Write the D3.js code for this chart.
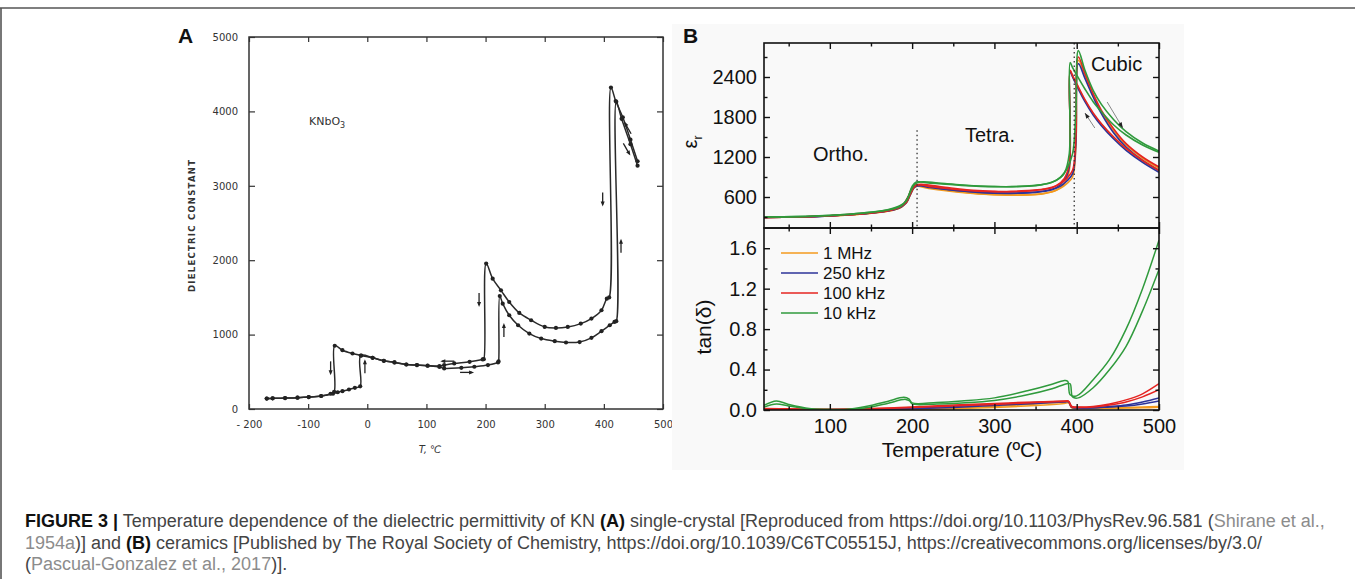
<!DOCTYPE html>
<html>
<head>
<style>
  body { margin: 0; background: #fff; }
  svg { display: block; }
  .scan text { font-family: "DejaVu Sans", sans-serif; fill: #333; }
  .plotB text { font-family: Arial, "Liberation Sans", sans-serif; fill: #111; }
  .caption { font-family: Arial, "Liberation Sans", sans-serif; font-size: 18px; fill: #444; }
  .caption .b { font-weight: bold; fill: #111; }
  .caption .g { fill: #8c8c8c; }
</style>
</head>
<body>
<script src="https://d3js.org/d3.v7.min.js"></script>
<script>
// ---------- panel A: KNbO3 single crystal (cooling / heating runs)
const coolT = [457, 445, 432, 420, 412, 409, 405, 396, 379, 361, 339, 319, 300, 277, 257, 240, 226, 212, 201, 197,
  195, 173, 147, 130, 122, 102, 84, 66, 46, 28, 9, -10, -25, -42, -55, -56, -62, -78, -99, -118, -139, -160, -170];
const coolEps = [3330, 3620, 3920, 4140, 4320, 1500, 1483, 1327, 1215, 1148, 1103, 1090, 1103, 1193, 1291, 1438, 1595, 1752, 1955, 670,
  666, 634, 612, 590, 578, 582, 590, 598, 626, 648, 688, 718, 746, 790, 850, 232, 205, 175, 160, 152, 147, 143, 140];
const heatT = [-170, -160, -139, -118, -99, -78, -58, -50, -42, -31, -21, -12, -11, 9, 28, 46, 66, 84, 102, 122,
  130, 159, 181, 204, 221, 222, 224, 229, 240, 255, 274, 294, 317, 336, 359, 379, 396, 410, 418, 421, 421, 430, 445, 457];
const heatEps = [140, 143, 147, 152, 160, 175, 205, 225, 240, 262, 285, 305, 718, 688, 648, 626, 598, 590, 581, 565,
  545, 554, 568, 590, 626, 640, 1519, 1416, 1260, 1126, 1014, 947, 911, 894, 900, 956, 1046, 1126, 1170, 1180, 4130, 3900, 3560, 3270];
const xTicksA = [-200, -100, 0, 100, 200, 300, 400, 500];
const yTicksA = [0, 1000, 2000, 3000, 4000, 5000];
// arrows drawn on the scan: [T, value, direction]
const arrowsA = [[-62, 560, 'down'], [-4, 560, 'up'], [189, 1480, 'down'], [231, 1050, 'up'],
  [398, 2830, 'down'], [429, 2180, 'up'], [137, 643, 'left'], [167, 492, 'right'],
  [441, 3770, 'upleft'], [438, 3500, 'downright']];

// ---------- panel B: KN ceramics, permittivity
const freqs = ['1 MHz', '250 kHz', '100 kHz', '10 kHz'];
const colors = ['#f39a1e', '#2c3399', '#e52421', '#2f9a3c'];
const epsHeatT = [20, 60, 100, 140, 170, 185, 193, 198, 203, 210, 240, 280, 320, 350, 370, 380, 388, 395, 399, 402, 410, 420, 430, 445, 460, 480, 500];
const epsHeat1M = [295, 300, 316, 345, 388, 440, 510, 635, 745, 765, 705, 650, 630, 640, 680, 730, 800, 900, 1350, 2650, 2420, 2120, 1870, 1590, 1380, 1180, 1030];
const epsHeat250k = [295, 300, 317, 348, 390, 445, 515, 640, 750, 775, 720, 670, 655, 670, 710, 760, 840, 950, 1400, 2600, 2380, 2100, 1850, 1560, 1350, 1150, 1000];
const epsHeat100k = [295, 300, 318, 350, 395, 450, 520, 650, 760, 790, 745, 695, 680, 700, 740, 800, 880, 1000, 1500, 2700, 2450, 2150, 1900, 1620, 1400, 1200, 1050];
const epsHeat10k = [300, 305, 325, 360, 410, 470, 540, 680, 790, 825, 800, 765, 755, 770, 820, 890, 1020, 1250, 1900, 2795, 2500, 2200, 1990, 1760, 1580, 1410, 1290];
const epsCoolT = [500, 480, 460, 445, 430, 420, 410, 400, 395, 392, 391, 385, 375, 360, 340, 300, 260, 220, 205, 200, 195, 188, 175, 140, 100, 60, 20];
const epsCool1M = [990, 1140, 1320, 1490, 1690, 1850, 2050, 2290, 2410, 2490, 1000, 800, 700, 650, 630, 635, 670, 730, 760, 715, 585, 455, 398, 346, 316, 300, 295];
const epsCool250k = [970, 1120, 1300, 1470, 1670, 1830, 2030, 2270, 2400, 2480, 1050, 850, 740, 690, 665, 660, 690, 745, 770, 725, 590, 460, 400, 348, 317, 300, 295];
const epsCool100k = [1000, 1150, 1330, 1500, 1700, 1860, 2060, 2300, 2420, 2500, 1100, 880, 770, 720, 695, 680, 705, 760, 785, 740, 600, 470, 405, 350, 318, 300, 295];
const epsCool10k = [1270, 1380, 1530, 1680, 1880, 2030, 2220, 2430, 2540, 2615, 1250, 960, 850, 790, 765, 755, 775, 810, 825, 760, 600, 480, 415, 358, 323, 305, 300];

// ---------- panel B: loss tangent
const tanT = [20, 50, 100, 150, 200, 250, 300, 350, 385, 390, 394, 400, 420, 440, 460, 480, 500];
const tan1MA = [0.005, 0.004, 0.003, 0.005, 0.01, 0.02, 0.035, 0.06, 0.08, 0.082, 0.025, 0.02, 0.02, 0.022, 0.025, 0.03, 0.035];
const tan1MB = [0.003, 0.002, 0.002, 0.003, 0.006, 0.012, 0.025, 0.045, 0.065, 0.07, 0.02, 0.015, 0.015, 0.017, 0.02, 0.022, 0.028];
const tan250kA = [0.01, 0.006, 0.004, 0.008, 0.018, 0.035, 0.055, 0.075, 0.085, 0.085, 0.03, 0.025, 0.025, 0.035, 0.05, 0.08, 0.12];
const tan250kB = [0.006, 0.004, 0.003, 0.006, 0.012, 0.025, 0.045, 0.065, 0.08, 0.08, 0.025, 0.02, 0.02, 0.03, 0.04, 0.06, 0.09];
const tan100kA = [0.015, 0.012, 0.008, 0.015, 0.03, 0.05, 0.065, 0.08, 0.088, 0.088, 0.035, 0.03, 0.035, 0.06, 0.1, 0.16, 0.26];
const tan100kB = [0.01, 0.008, 0.006, 0.01, 0.025, 0.04, 0.055, 0.075, 0.085, 0.085, 0.03, 0.025, 0.03, 0.05, 0.08, 0.13, 0.2];
const tan10kAT = [20, 35, 50, 75, 100, 125, 150, 170, 190, 196, 200, 230, 260, 300, 340, 370, 384, 389, 392, 400, 420, 440, 460, 480, 500];
const tan10kA = [0.045, 0.088, 0.055, 0.015, 0.005, 0.01, 0.045, 0.085, 0.125, 0.11, 0.07, 0.075, 0.09, 0.12, 0.19, 0.255, 0.29, 0.285, 0.15, 0.14, 0.3, 0.5, 0.8, 1.2, 1.68];
const tan10kBT = [20, 35, 50, 75, 100, 125, 150, 170, 192, 197, 200, 230, 260, 300, 340, 370, 388, 392, 395, 402, 420, 440, 460, 480, 500];
const tan10kB = [0.03, 0.06, 0.04, 0.01, 0.004, 0.006, 0.03, 0.065, 0.105, 0.09, 0.06, 0.06, 0.07, 0.095, 0.15, 0.21, 0.26, 0.26, 0.13, 0.12, 0.22, 0.4, 0.63, 0.98, 1.39];

const xTicksB = [100, 200, 300, 400, 500];
const xMinorB = [50, 150, 250, 350, 450];
const epsTicks = [600, 1200, 1800, 2400];
const epsMinor = [300, 900, 1500, 2100, 2700];
const tanTicks = [0, 0.4, 0.8, 1.2, 1.6];
const tanMinor = [0.2, 0.6, 1.0, 1.4];
const phaseT = [206, 397];       // dotted phase boundaries
const phaseTop = [1600, 2910];

const W = 1355, H = 579;
const svg = d3.select('body').append('svg').attr('width', W).attr('height', H);

// page frame
svg.append('line').attr('x1', 0).attr('x2', W).attr('y1', 8).attr('y2', 8)
  .attr('stroke', '#555').attr('stroke-width', 1.6);
svg.append('line').attr('x1', 1).attr('x2', 1).attr('y1', 8).attr('y2', H)
  .attr('stroke', '#555').attr('stroke-width', 1.6);

function styleAxis(g, size, family, color, sw) {
  g.select('.domain').remove();
  g.attr('font-size', size).attr('font-family', family).attr('color', color);
  g.selectAll('.tick line').attr('stroke-width', sw);
}

// ================= panel A =================
const xA = d3.scaleLinear().domain([-200, 500]).range([249, 663]);
const yA = d3.scaleLinear().domain([0, 5000]).range([409, 37]);
const gA = svg.append('g').attr('class', 'scan');
const fA = '"DejaVu Sans", sans-serif';

gA.append('g').attr('transform', 'translate(0,409)')
  .call(d3.axisBottom(xA).tickValues(xTicksA).tickSizeInner(-5).tickSizeOuter(0).tickPadding(12)
    .tickFormat(d => d === -200 ? '- 200' : d))
  .call(g => styleAxis(g, 10, fA, '#333', 1.2));
gA.append('g').attr('transform', 'translate(0,37)')
  .call(d3.axisTop(xA).tickValues(xTicksA).tickSizeInner(-5).tickSizeOuter(0).tickFormat(''))
  .call(g => styleAxis(g, 10, fA, '#333', 1.2));
gA.append('g').attr('transform', 'translate(249,0)')
  .call(d3.axisLeft(yA).tickValues(yTicksA).tickSizeInner(-6).tickSizeOuter(0).tickPadding(11).tickFormat(d3.format('d')))
  .call(g => styleAxis(g, 10, fA, '#333', 1.2));
gA.append('g').attr('transform', 'translate(663,0)')
  .call(d3.axisRight(yA).tickValues(yTicksA).tickSizeInner(-6).tickSizeOuter(0).tickFormat(''))
  .call(g => styleAxis(g, 10, fA, '#333', 1.2));
gA.append('rect').attr('x', 249).attr('y', 37).attr('width', 663 - 249).attr('height', 409 - 37)
  .attr('fill', 'none').attr('stroke', '#333').attr('stroke-width', 1.5);

const lineA = d3.line().x(d => xA(d[0])).y(d => yA(d[1])).curve(d3.curveCatmullRom.alpha(0.5));
const coolA = coolT.map((t, i) => [t, coolEps[i]]);
const heatA = heatT.map((t, i) => [t, heatEps[i]]);
[coolA, heatA].forEach(run => {
  gA.append('path').attr('d', lineA(run)).attr('fill', 'none').attr('stroke', '#2a2a2a').attr('stroke-width', 1.5);
  gA.selectAll(null).data(run).join('circle')
    .attr('cx', d => xA(d[0])).attr('cy', d => yA(d[1])).attr('r', 2.1).attr('fill', '#222');
});

const dirVec = { down: [0, 1], up: [0, -1], left: [-1, 0], right: [1, 0], upleft: [-0.5, -0.87], downright: [0.5, 0.87] };
arrowsA.forEach(([t, v, dir]) => {
  const [ux, uy] = dirVec[dir];
  const cx = xA(t), cy = yA(v), L = 6;
  const ex = cx + ux * L, ey = cy + uy * L;
  gA.append('line').attr('x1', cx - ux * L).attr('y1', cy - uy * L).attr('x2', ex).attr('y2', ey)
    .attr('stroke', '#222').attr('stroke-width', 1.3);
  const px = -uy, py = ux;
  gA.append('path')
    .attr('d', `M${ex + ux * 2},${ey + uy * 2} L${ex - ux * 3 + px * 2},${ey - uy * 3 + py * 2} L${ex - ux * 3 - px * 2},${ey - uy * 3 - py * 2}Z`)
    .attr('fill', '#222');
});

gA.append('text').attr('x', 309).attr('y', 125).attr('font-size', 11)
  .text('KNbO').append('tspan').attr('dy', 3).attr('font-size', 8).text('3');
gA.append('text').attr('x', 430).attr('y', 453).attr('text-anchor', 'middle').attr('font-size', 10)
  .attr('font-style', 'italic').text('T, ℃');
gA.append('text').attr('transform', 'translate(195,226) rotate(-90)').attr('text-anchor', 'middle')
  .attr('font-size', 8.5).attr('font-weight', 'bold').attr('textLength', 132).attr('lengthAdjust', 'spacing')
  .text('DIELECTRIC CONSTANT');

svg.append('text').attr('x', 178).attr('y', 43).attr('font-family', 'Arial, "Liberation Sans", sans-serif')
  .attr('font-size', 21).attr('font-weight', 'bold').attr('fill', '#111').text('A');

// ================= panel B =================
const gB = svg.append('g').attr('class', 'plotB');
const fB = 'Arial, "Liberation Sans", sans-serif';
gB.append('rect').attr('x', 672).attr('y', 24).attr('width', 512).attr('height', 446).attr('fill', '#f9f9f9');

const xB = d3.scaleLinear().domain([20, 500]).range([764, 1159]);
const yE = d3.scaleLinear().domain([135, 2910]).range([228, 43]);
const yT = d3.scaleLinear().domain([0, 1.8]).range([410, 228]);

gB.append('clipPath').attr('id', 'clipE').append('rect').attr('x', 764).attr('y', 43).attr('width', 395).attr('height', 185);
gB.append('clipPath').attr('id', 'clipT').append('rect').attr('x', 764).attr('y', 228).attr('width', 395).attr('height', 182);

const lineE = d3.line().x(d => xB(d[0])).y(d => yE(d[1])).curve(d3.curveCatmullRom.alpha(0.5));
const lineT = d3.line().x(d => xB(d[0])).y(d => yT(d[1])).curve(d3.curveCatmullRom.alpha(0.5));

const epsRuns = [
  [epsHeatT, epsHeat1M, 0], [epsCoolT, epsCool1M, 0],
  [epsHeatT, epsHeat250k, 1], [epsCoolT, epsCool250k, 1],
  [epsHeatT, epsHeat100k, 2], [epsCoolT, epsCool100k, 2],
  [epsHeatT, epsHeat10k, 3], [epsCoolT, epsCool10k, 3]
];
const tanRuns = [
  [tanT, tan1MA, 0], [tanT, tan1MB, 0],
  [tanT, tan250kA, 1], [tanT, tan250kB, 1],
  [tanT, tan100kA, 2], [tanT, tan100kB, 2],
  [tan10kAT, tan10kA, 3], [tan10kBT, tan10kB, 3]
];
const gE = gB.append('g').attr('clip-path', 'url(#clipE)');
epsRuns.forEach(([ts, vs, c]) => {
  gE.append('path').attr('d', lineE(ts.map((t, i) => [t, vs[i]])))
    .attr('fill', 'none').attr('stroke', colors[c]).attr('stroke-width', 1.6);
});
const gT = gB.append('g').attr('clip-path', 'url(#clipT)');
tanRuns.forEach(([ts, vs, c]) => {
  gT.append('path').attr('d', lineT(ts.map((t, i) => [t, vs[i]])))
    .attr('fill', 'none').attr('stroke', colors[c]).attr('stroke-width', 1.5);
});

// dotted phase boundaries
phaseT.forEach((t, i) => {
  gB.append('line').attr('x1', xB(t)).attr('x2', xB(t)).attr('y1', yE(phaseTop[i])).attr('y2', 228)
    .attr('stroke', '#333').attr('stroke-width', 1.3).attr('stroke-dasharray', '1.5,3');
});

// direction arrows in the cubic region
[[422, 1635, 410, 1860], [437, 2025, 456, 1635]].forEach(([t0, v0, t1, v1]) => {
  const x0 = xB(t0), y0 = yE(v0), x1 = xB(t1), y1 = yE(v1);
  const a = Math.atan2(y1 - y0, x1 - x0);
  gB.append('line').attr('x1', x0).attr('y1', y0).attr('x2', x1).attr('y2', y1)
    .attr('stroke', '#888').attr('stroke-width', 1);
  gB.append('path')
    .attr('d', `M${x1},${y1} L${x1 - 6 * Math.cos(a - 0.35)},${y1 - 6 * Math.sin(a - 0.35)} L${x1 - 6 * Math.cos(a + 0.35)},${y1 - 6 * Math.sin(a + 0.35)}Z`)
    .attr('fill', '#222');
});

// axes
const ax = (sel, tr, axis) => sel.append('g').attr('transform', tr).call(axis)
  .call(g => styleAxis(g, 20, fB, '#111', 1.4));
// epsilon panel
ax(gB, 'translate(764,0)', d3.axisLeft(yE).tickValues(epsTicks).tickSizeInner(-6).tickSizeOuter(0).tickPadding(7).tickFormat(d3.format('d')));
ax(gB, 'translate(764,0)', d3.axisLeft(yE).tickValues(epsMinor).tickSize(-3.5).tickFormat(''));
ax(gB, 'translate(1159,0)', d3.axisRight(yE).tickValues(epsTicks).tickSize(-6).tickFormat(''));
ax(gB, 'translate(1159,0)', d3.axisRight(yE).tickValues(epsMinor).tickSize(-3.5).tickFormat(''));
ax(gB, 'translate(0,43)', d3.axisTop(xB).tickValues(xTicksB).tickSize(-6).tickFormat(''));
ax(gB, 'translate(0,43)', d3.axisTop(xB).tickValues(xMinorB).tickSize(-3.5).tickFormat(''));
ax(gB, 'translate(0,228)', d3.axisBottom(xB).tickValues(xTicksB).tickSize(-6).tickFormat(''));
ax(gB, 'translate(0,228)', d3.axisBottom(xB).tickValues(xMinorB).tickSize(-3.5).tickFormat(''));
// tan panel
ax(gB, 'translate(764,0)', d3.axisLeft(yT).tickValues(tanTicks).tickFormat(d3.format('.1f')).tickSizeInner(-6).tickSizeOuter(0).tickPadding(7));
ax(gB, 'translate(764,0)', d3.axisLeft(yT).tickValues(tanMinor).tickSize(-3.5).tickFormat(''));
ax(gB, 'translate(1159,0)', d3.axisRight(yT).tickValues(tanTicks).tickSize(-6).tickFormat(''));
ax(gB, 'translate(1159,0)', d3.axisRight(yT).tickValues(tanMinor).tickSize(-3.5).tickFormat(''));
ax(gB, 'translate(0,228)', d3.axisTop(xB).tickValues(xTicksB).tickSize(-6).tickFormat(''));
ax(gB, 'translate(0,228)', d3.axisTop(xB).tickValues(xMinorB).tickSize(-3.5).tickFormat(''));
ax(gB, 'translate(0,410)', d3.axisBottom(xB).tickValues(xTicksB).tickSizeInner(-6).tickSizeOuter(0).tickPadding(9).tickFormat(d3.format('d')));
ax(gB, 'translate(0,410)', d3.axisBottom(xB).tickValues(xMinorB).tickSize(-3.5).tickFormat(''));

gB.append('rect').attr('x', 764).attr('y', 43).attr('width', 395).attr('height', 185)
  .attr('fill', 'none').attr('stroke', '#111').attr('stroke-width', 1.6);
gB.append('rect').attr('x', 764).attr('y', 228).attr('width', 395).attr('height', 182)
  .attr('fill', 'none').attr('stroke', '#111').attr('stroke-width', 1.6);

// labels
gB.append('text').attr('x', 1091).attr('y', 71).attr('font-size', 20).text('Cubic');
gB.append('text').attr('x', 965).attr('y', 142).attr('font-size', 20).text('Tetra.');
gB.append('text').attr('x', 813).attr('y', 161).attr('font-size', 20).text('Ortho.');

const epsLab = gB.append('text').attr('transform', 'translate(697,142) rotate(-90)')
  .attr('text-anchor', 'middle').attr('font-size', 20);
epsLab.append('tspan').text('ε');
epsLab.append('tspan').attr('dy', 5).attr('font-size', 12).text('r');
gB.append('text').attr('transform', 'translate(711,327) rotate(-90)')
  .attr('text-anchor', 'middle').attr('font-size', 21).text('tan(δ)');
gB.append('text').attr('x', 962).attr('y', 457).attr('text-anchor', 'middle').attr('font-size', 21)
  .text('Temperature (ºC)');

const leg = gB.append('g');
freqs.forEach((f, i) => {
  const y = 253 + i * 20;
  leg.append('line').attr('x1', 781).attr('x2', 818).attr('y1', y).attr('y2', y)
    .attr('stroke', colors[i]).attr('stroke-width', 1.6);
  leg.append('text').attr('x', 823).attr('y', y + 6).attr('font-size', 17).text(f);
});

svg.append('text').attr('x', 683).attr('y', 43).attr('font-family', fB)
  .attr('font-size', 21).attr('font-weight', 'bold').attr('fill', '#111').text('B');

// ================= caption =================
const captionLines = [
  [['FIGURE 3 |', 'b'], [' Temperature dependence of the dielectric permittivity of KN '], ['(A)', 'b'],
   [' single-crystal [Reproduced from https://doi.org/10.1103/PhysRev.96.581 ('], ['Shirane et al.,', 'g']],
  [['1954a', 'g'], [')] and '], ['(B)', 'b'],
   [' ceramics [Published by The Royal Society of Chemistry, https://doi.org/10.1039/C6TC05515J, https://creativecommons.org/licenses/by/3.0/']],
  [['('], ['Pascual-Gonzalez et al., 2017', 'g'], [')].']]
];
const capY = [527, 548.5, 570];
captionLines.forEach((parts, i) => {
  const t = svg.append('text').attr('class', 'caption').attr('x', 25).attr('y', capY[i]).attr('xml:space', 'preserve');
  parts.forEach(([s, c]) => t.append('tspan').attr('class', c || null).text(s));
});
</script>
</body>
</html>
